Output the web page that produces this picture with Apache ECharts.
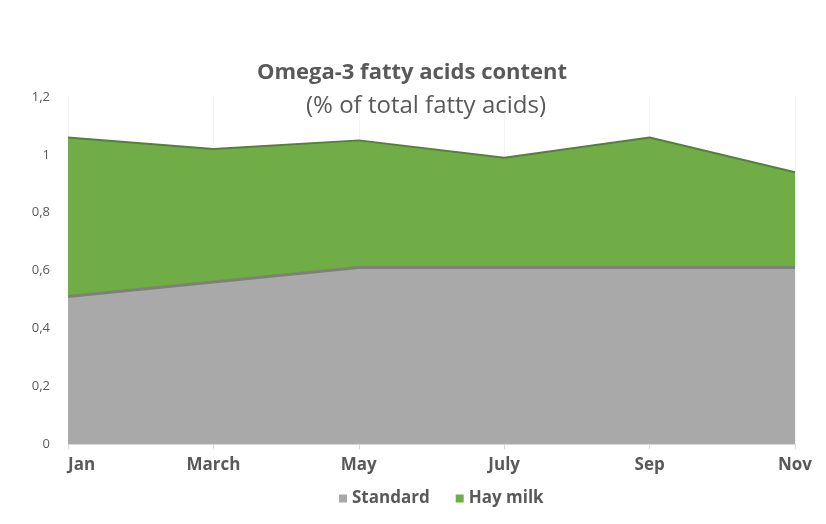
<!DOCTYPE html>
<html>
<head>
<meta charset="utf-8">
<script src="https://cdn.jsdelivr.net/npm/echarts@6/dist/echarts.min.js"></script>
<style>html,body{margin:0;padding:0;background:#fff}#c{width:826px;height:524px}</style>
</head>
<body>
<div id="c"></div>
<script>
const categories = ['Jan', 'March', 'May', 'July', 'Sep', 'Nov'];
const standard = [0.51, 0.56, 0.61, 0.61, 0.61, 0.61];
const hayMilk = [1.06, 1.02, 1.05, 0.99, 1.06, 0.94];
const yTicks = { min: 0, max: 1.2, interval: 0.2 };

const chart = echarts.init(document.getElementById('c'));
chart.setOption({
  animation: false,
  backgroundColor: '#ffffff',
  title: [
    { text: 'Omega-3 fatty acids content', left: 407, top: 57, textAlign: 'center',
      textStyle: { fontFamily: 'Open Sans', fontWeight: 'bold', fontSize: 22, color: '#595959' } },
    { text: '(% of total fatty acids)', left: 421, top: 89, textAlign: 'center',
      textStyle: { fontFamily: 'Open Sans', fontWeight: 'normal', fontSize: 24, color: '#595959' } }
  ],
  legend: {
    data: ['Standard', 'Hay milk'],
    left: 334, top: 485,
    icon: 'rect', itemWidth: 8, itemHeight: 8, itemGap: 26,
    textStyle: { fontFamily: 'Open Sans', fontWeight: 'bold', fontSize: 17, color: '#595959' }
  },
  grid: { left: 68, right: 31, top: 97, bottom: 80 },
  xAxis: {
    type: 'category', data: categories, boundaryGap: false,
    axisLine: { lineStyle: { color: '#d9d9d9' } },
    axisTick: { show: true, lineStyle: { color: '#d9d9d9' }, length: 5 },
    splitLine: { show: true, lineStyle: { color: '#f3f3f3' } },
    axisLabel: { fontFamily: 'Open Sans', fontWeight: 'bold', fontSize: 17, color: '#595959', margin: 13,
      alignMinLabel: 'left', alignMaxLabel: 'center' }
  },
  yAxis: {
    type: 'value', min: yTicks.min, max: yTicks.max, interval: yTicks.interval,
    splitLine: { show: false },
    axisLine: { show: false }, axisTick: { show: false },
    axisLabel: { fontFamily: 'Open Sans', fontSize: 13, color: '#595959', margin: 18,
      formatter: v => String(Math.round(v * 10) / 10).replace('.', ',') }
  },
  series: [
    { name: 'Hay milk', type: 'line', data: hayMilk, z: 2, symbol: 'none',
      itemStyle: { color: '#70ad47' },
      lineStyle: { color: '#548235', width: 2 },
      areaStyle: { color: '#70ad47', opacity: 1 } },
    { name: 'Standard', type: 'line', data: standard, z: 3, symbol: 'none',
      itemStyle: { color: '#a9a9a9' },
      lineStyle: { color: '#7f7f7f', width: 3 },
      areaStyle: { color: '#a9a9a9', opacity: 1 } }
  ]
});
</script>
</body>
</html>
